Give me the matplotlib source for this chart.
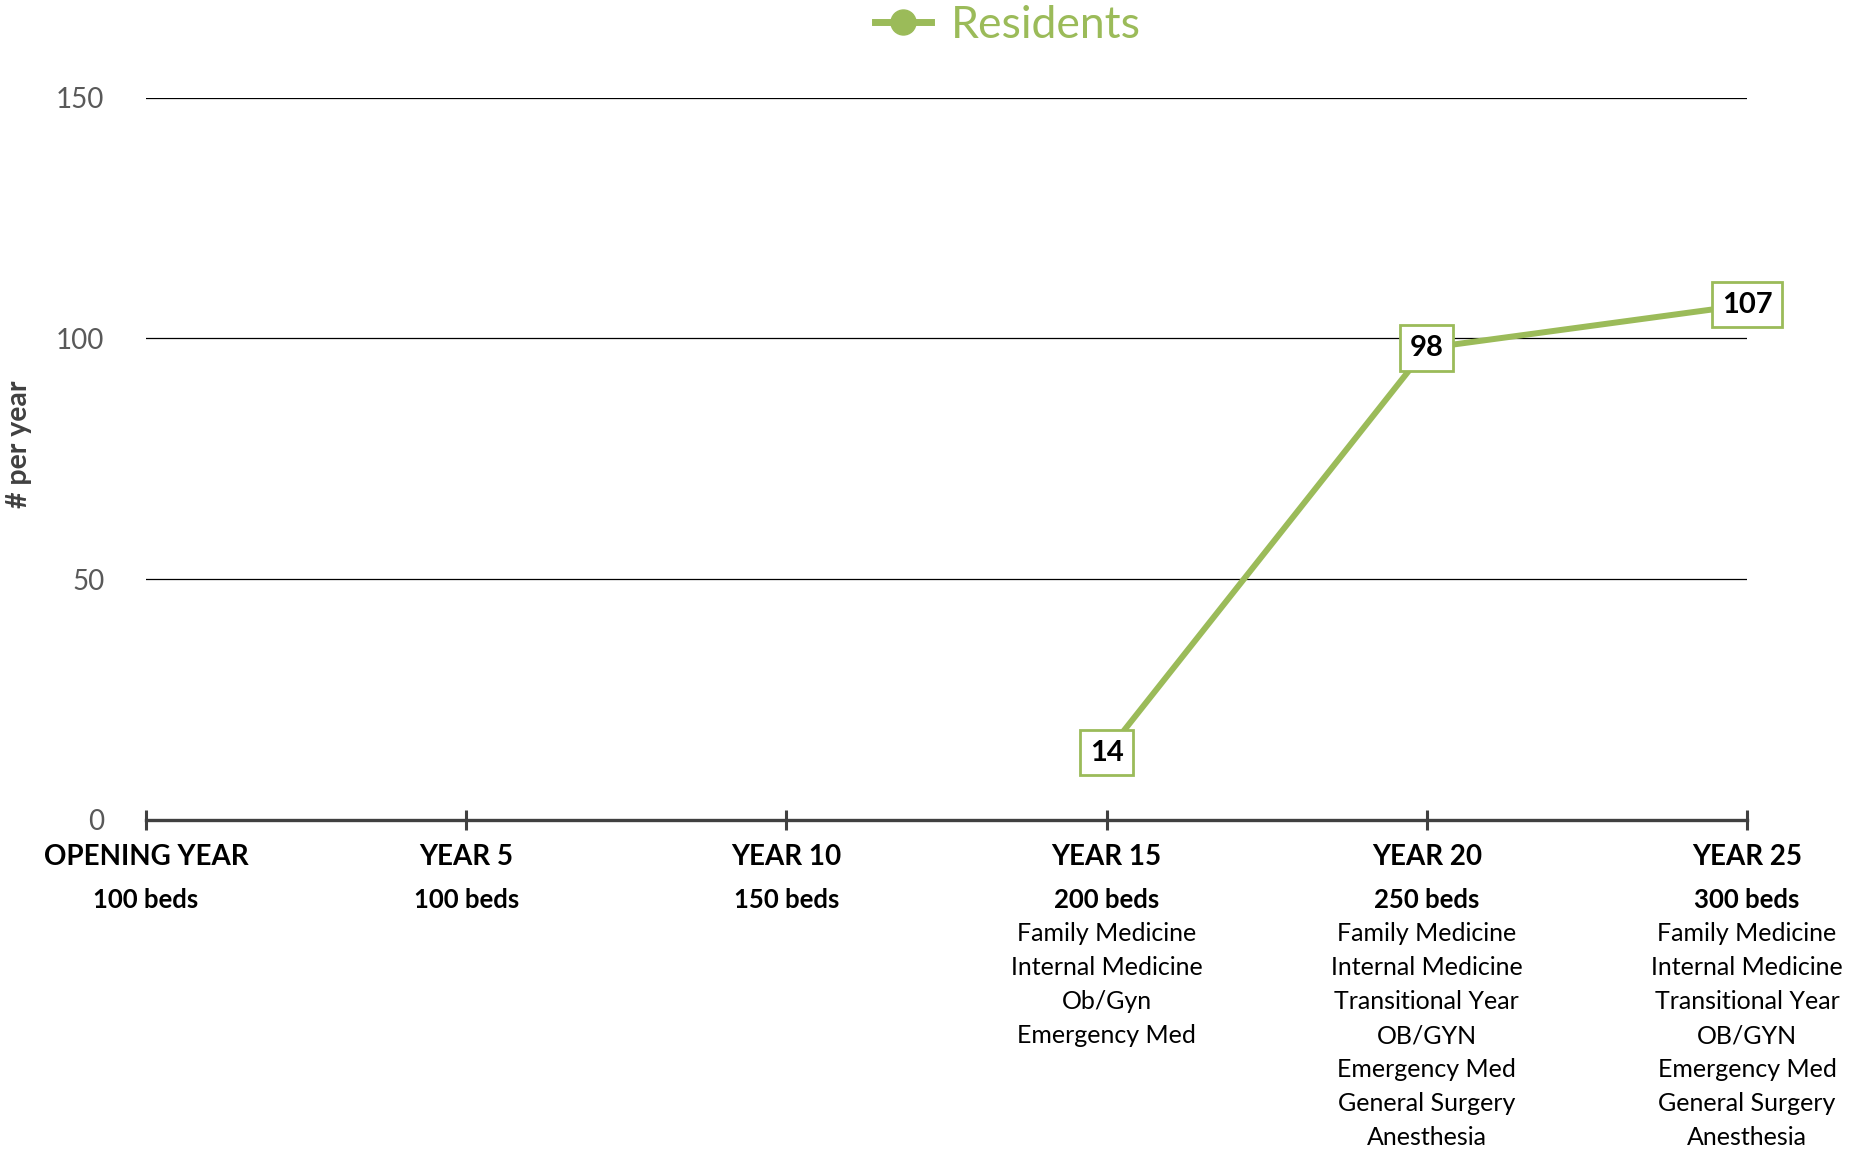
import numpy as np
import matplotlib.pyplot as plt

# data
years = ['OPENING YEAR', 'YEAR 5', 'YEAR 10', 'YEAR 15', 'YEAR 20', 'YEAR 25']
beds = ['100 beds', '100 beds', '150 beds', '200 beds', '250 beds', '300 beds']
residents = [np.nan, np.nan, np.nan, 14, 98, 107]
programs_y15 = ['Family Medicine', 'Internal Medicine', 'Ob/Gyn', 'Emergency Med']
programs_y20 = ['Family Medicine', 'Internal Medicine', 'Transitional Year', 'OB/GYN',
                'Emergency Med', 'General Surgery', 'Anesthesia']
programs_y25 = ['Family Medicine', 'Internal Medicine', 'Transitional Year', 'OB/GYN',
                'Emergency Med', 'General Surgery', 'Anesthesia']
programs = [[], [], [], programs_y15, programs_y20, programs_y25]

GREEN = '#9BBB59'
plt.rcParams['font.family'] = ['Lato', 'DejaVu Sans']

fig = plt.figure(figsize=(18.5, 11.5), dpi=100)
ax = fig.add_axes([0.0789, 0.287, 0.8654, 0.628])

x = np.arange(len(years))
ax.plot(x, residents, color=GREEN, lw=4.3, marker='o', markersize=0,
        solid_capstyle='butt', clip_on=False, label='Residents')

for xi, v in zip(x, residents):
    if np.isnan(v):
        continue
    ax.text(xi, v, '%d' % v, ha='center', va='center', fontsize=21, fontweight='bold',
            color='black', zorder=5, clip_on=False,
            bbox=dict(boxstyle='square,pad=0.33', fc='white', ec=GREEN, lw=2))

ax.set_xlim(0, len(years) - 1)
ax.set_ylim(0, 150)
ax.set_yticks([0, 50, 100, 150])
ax.grid(axis='y', color='black', lw=0.9)
ax.set_axisbelow(True)
for s in ['top', 'right', 'left']:
    ax.spines[s].set_visible(False)
ax.spines['bottom'].set_color('#404040')
ax.spines['bottom'].set_linewidth(2.4)
ax.spines['bottom'].set_zorder(3)

ax.tick_params(axis='y', length=0, pad=30, labelsize=20, labelcolor='#595959')
ax.set_xticks(x)
ax.set_xticklabels([])
ax.tick_params(axis='x', direction='inout', length=14, width=2.2, color='#404040')

ax.set_ylabel('# per year', fontsize=20.5, fontweight='bold', color='#404040')
ax.yaxis.set_label_coords(-0.071, 0.52)

for xi in x:
    ax.annotate(years[xi], xy=(xi, 0), xycoords=('data', 'axes fraction'),
                xytext=(0, -37), textcoords='offset pixels', ha='center', va='center',
                fontsize=20, fontweight='bold', annotation_clip=False)
    ax.annotate(beds[xi], xy=(xi, 0), xycoords=('data', 'axes fraction'),
                xytext=(0, -80), textcoords='offset pixels', ha='center', va='center',
                fontsize=18.5, fontweight='bold', annotation_clip=False)
    for j, p in enumerate(programs[xi]):
        ax.annotate(p, xy=(xi, 0), xycoords=('data', 'axes fraction'),
                    xytext=(0, -114 - 34 * j), textcoords='offset pixels',
                    ha='center', va='center', fontsize=18, annotation_clip=False)

leg_handle = plt.Line2D([], [], color=GREEN, lw=5, marker='o', markersize=18)
fig.legend([leg_handle], ['Residents'], loc='center', bbox_to_anchor=(0.545, 0.978),
           frameon=False, fontsize=32, labelcolor=GREEN, handlelength=1.25,
           handletextpad=0.45)

fig.savefig('out.png', dpi=100)
